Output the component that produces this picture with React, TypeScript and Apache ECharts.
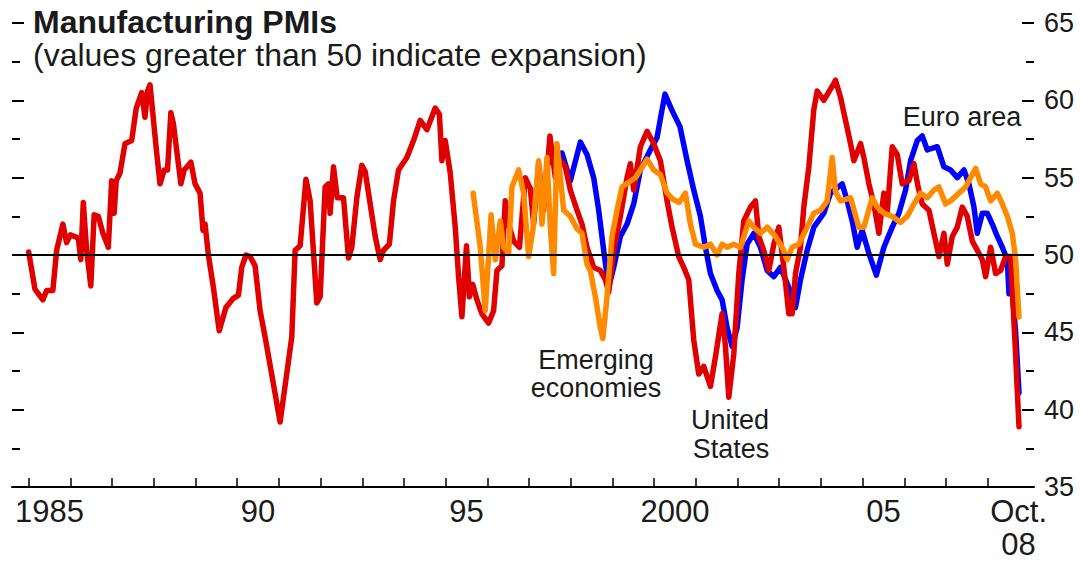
import React, { useEffect, useRef } from "react";
import * as echarts from "echarts";

// ---- Data (decimal year, PMI value) ----
const usData: [number, number][] = [
  [1985.0, 50.2], [1985.15, 47.8], [1985.34, 47.1], [1985.43, 47.7], [1985.58, 47.7], [1985.67, 50.3],
  [1985.82, 52.0], [1985.91, 50.8], [1986.0, 51.3], [1986.19, 51.1], [1986.25, 49.7], [1986.31, 53.4],
  [1986.39, 50.3], [1986.49, 48.0], [1986.57, 52.6], [1986.67, 52.5], [1986.78, 51.4], [1986.91, 50.5],
  [1986.99, 54.8], [1987.05, 52.7], [1987.1, 54.8], [1987.19, 55.3], [1987.31, 57.2], [1987.47, 57.4],
  [1987.58, 59.5], [1987.71, 60.5], [1987.79, 58.9], [1987.85, 60.6], [1987.91, 61.0], [1988.07, 56.6],
  [1988.15, 54.6], [1988.25, 55.5], [1988.33, 55.5], [1988.41, 59.2], [1988.47, 58.5], [1988.65, 54.6],
  [1988.73, 55.5], [1988.89, 56.0], [1988.99, 54.6], [1989.11, 54.0], [1989.18, 51.6], [1989.23, 52.0],
  [1989.31, 50.0], [1989.43, 47.9], [1989.57, 45.1], [1989.73, 46.6], [1989.91, 47.2], [1990.03, 47.4],
  [1990.11, 49.2], [1990.21, 50.0], [1990.31, 49.9], [1990.43, 49.3], [1990.55, 46.4], [1990.67, 44.7],
  [1991.03, 39.2], [1991.31, 44.7], [1991.39, 50.3], [1991.51, 50.6], [1991.65, 54.9], [1991.75, 53.5],
  [1991.91, 46.9], [1991.99, 47.3], [1992.11, 54.4], [1992.19, 54.6], [1992.23, 52.7], [1992.31, 55.7],
  [1992.4, 53.7], [1992.55, 53.7], [1992.67, 49.8], [1992.75, 50.5], [1992.87, 53.7], [1992.99, 55.8],
  [1993.07, 55.4], [1993.31, 51.2], [1993.43, 49.7], [1993.51, 50.3], [1993.65, 50.7], [1993.75, 53.5],
  [1993.87, 55.5], [1994.07, 56.3], [1994.23, 57.4], [1994.39, 58.7], [1994.55, 58.1], [1994.75, 59.5],
  [1994.85, 59.1], [1994.91, 56.1], [1994.99, 57.4], [1995.11, 55.3], [1995.23, 51.8], [1995.31, 48.6],
  [1995.39, 46.0], [1995.5, 50.6], [1995.57, 47.3], [1995.65, 48.1], [1995.75, 47.1], [1995.87, 46.2],
  [1996.03, 45.6], [1996.15, 46.4], [1996.23, 49.0], [1996.35, 49.3], [1996.43, 53.5], [1996.53, 51.8],
  [1996.63, 50.9], [1996.77, 50.5], [1996.91, 55.0], [1997.03, 54.3], [1997.11, 52.0], [1997.23, 55.9],
  [1997.35, 52.9], [1997.43, 55.3], [1997.5, 57.7], [1997.63, 55.0], [1997.75, 56.1], [1997.87, 55.7],
  [1997.99, 54.2], [1998.15, 52.9], [1998.27, 52.0], [1998.39, 50.5], [1998.55, 49.2], [1998.71, 49.0],
  [1998.83, 48.4], [1998.91, 47.6], [1999.03, 50.3], [1999.19, 52.5], [1999.35, 55.0], [1999.43, 55.9],
  [1999.51, 54.2], [1999.67, 57.0], [1999.83, 58.0], [1999.99, 57.2], [2000.15, 56.1], [2000.31, 53.5],
  [2000.43, 51.8], [2000.59, 49.9], [2000.71, 49.2], [2000.83, 48.4], [2000.95, 44.5], [2001.07, 42.3],
  [2001.19, 42.8], [2001.35, 41.5], [2001.47, 43.4], [2001.63, 46.2], [2001.71, 44.1], [2001.79, 40.8],
  [2001.91, 43.6], [2002.03, 48.8], [2002.15, 52.2], [2002.31, 53.1], [2002.43, 53.5], [2002.51, 51.2],
  [2002.63, 50.3], [2002.75, 49.0], [2002.87, 50.7], [2002.99, 51.8], [2003.11, 49.2], [2003.23, 46.2],
  [2003.31, 46.2], [2003.39, 48.8], [2003.51, 50.5], [2003.59, 53.1], [2003.71, 55.7], [2003.83, 59.4],
  [2003.91, 60.6], [2004.07, 60.0], [2004.31, 61.1], [2004.35, 61.3], [2004.47, 60.2], [2004.59, 58.7],
  [2004.71, 57.2], [2004.79, 56.1], [2004.95, 57.2], [2005.03, 56.3], [2005.15, 54.6], [2005.27, 53.3],
  [2005.39, 51.4], [2005.51, 54.0], [2005.59, 52.7], [2005.71, 57.0], [2005.83, 56.5], [2005.95, 54.6],
  [2006.11, 54.8], [2006.23, 55.9], [2006.33, 54.4], [2006.43, 53.3], [2006.59, 52.9], [2006.71, 51.4],
  [2006.83, 49.9], [2006.95, 51.4], [2007.03, 49.4], [2007.15, 51.2], [2007.27, 51.8], [2007.39, 53.1],
  [2007.51, 52.5], [2007.63, 50.9], [2007.75, 50.3], [2007.87, 49.7], [2007.95, 48.6], [2008.07, 50.5],
  [2008.19, 48.8], [2008.31, 49.0], [2008.43, 49.9], [2008.55, 49.9], [2008.67, 43.5], [2008.75, 38.9],
];

const euroData: [number, number][] = [
  [1997.5, 56.0], [1997.62, 56.5], [1997.79, 56.6], [1997.99, 54.8], [1998.23, 57.3], [1998.39, 56.5],
  [1998.55, 55.0], [1998.67, 52.9], [1998.79, 50.3], [1998.91, 47.9], [1999.03, 49.2], [1999.19, 51.2],
  [1999.35, 52.0], [1999.51, 53.3], [1999.67, 55.5], [1999.91, 56.8], [2000.07, 57.6], [2000.19, 59.4],
  [2000.26, 60.4], [2000.42, 59.4], [2000.62, 58.3], [2000.79, 56.1], [2000.95, 54.2], [2001.11, 52.5],
  [2001.23, 50.5], [2001.35, 48.8], [2001.51, 47.7], [2001.63, 47.1], [2001.75, 45.3], [2001.87, 44.1],
  [2001.99, 45.3], [2002.11, 48.4], [2002.23, 50.7], [2002.39, 51.4], [2002.55, 50.5], [2002.71, 49.0],
  [2002.87, 48.6], [2003.03, 49.2], [2003.23, 47.9], [2003.39, 46.6], [2003.51, 48.4], [2003.67, 50.3],
  [2003.83, 51.8], [2004.07, 52.7], [2004.23, 54.0], [2004.51, 54.6], [2004.63, 53.5], [2004.75, 52.2],
  [2004.87, 50.5], [2004.99, 51.6], [2005.15, 50.1], [2005.33, 48.7], [2005.51, 50.5], [2005.71, 51.8],
  [2005.87, 52.7], [2006.03, 54.2], [2006.15, 56.1], [2006.31, 57.4], [2006.43, 57.7], [2006.55, 56.8],
  [2006.79, 57.0], [2006.95, 55.7], [2007.11, 55.5], [2007.27, 55.0], [2007.43, 55.5], [2007.55, 54.6],
  [2007.67, 53.1], [2007.75, 51.4], [2007.87, 52.7], [2007.99, 52.7], [2008.11, 52.0], [2008.23, 51.2],
  [2008.35, 50.5], [2008.47, 49.7], [2008.51, 47.5], [2008.59, 47.6], [2008.67, 45.0], [2008.75, 41.1],
];

const emergingData: [number, number][] = [
  [1995.66, 54.0], [1995.83, 50.5], [1995.95, 46.4], [1996.09, 52.6], [1996.19, 49.7], [1996.31, 52.2],
  [1996.39, 50.5], [1996.51, 50.1], [1996.59, 54.4], [1996.75, 55.5], [1996.87, 54.0], [1996.99, 49.9],
  [1997.09, 51.6], [1997.23, 56.1], [1997.31, 52.0], [1997.43, 56.3], [1997.51, 51.8], [1997.59, 48.8],
  [1997.67, 57.2], [1997.83, 52.9], [1997.99, 52.5], [1998.15, 51.7], [1998.27, 51.4], [1998.39, 49.4],
  [1998.47, 49.0], [1998.59, 47.3], [1998.71, 45.3], [1998.77, 44.6], [1998.87, 47.3], [1998.99, 51.2],
  [1999.11, 52.9], [1999.23, 54.4], [1999.39, 54.7], [1999.55, 55.0], [1999.67, 55.5], [1999.83, 56.2],
  [1999.99, 55.5], [2000.15, 55.2], [2000.31, 54.0], [2000.45, 53.6], [2000.6, 53.4], [2000.75, 54.0],
  [2000.87, 52.0], [2000.99, 50.7], [2001.19, 50.5], [2001.35, 50.7], [2001.51, 50.0], [2001.63, 50.7],
  [2001.75, 50.5], [2001.91, 50.7], [2002.07, 50.5], [2002.27, 52.2], [2002.39, 51.8], [2002.55, 51.4],
  [2002.71, 51.8], [2002.91, 51.2], [2003.07, 50.5], [2003.19, 49.7], [2003.31, 50.5], [2003.47, 50.7],
  [2003.67, 51.8], [2003.83, 52.7], [2003.99, 52.9], [2004.15, 53.5], [2004.27, 56.3], [2004.35, 54.1],
  [2004.47, 53.5], [2004.71, 53.7], [2004.91, 51.8], [2005.03, 51.8], [2005.23, 53.7], [2005.35, 53.1],
  [2005.51, 52.7], [2005.71, 52.5], [2005.91, 52.1], [2006.07, 52.5], [2006.23, 53.3], [2006.39, 54.0],
  [2006.55, 53.7], [2006.71, 54.2], [2006.83, 54.4], [2006.99, 53.3], [2007.11, 53.5], [2007.31, 54.0],
  [2007.47, 54.4], [2007.59, 55.0], [2007.71, 55.6], [2007.83, 54.6], [2007.95, 54.4], [2008.07, 53.5],
  [2008.23, 54.0], [2008.35, 53.3], [2008.47, 52.5], [2008.59, 51.4], [2008.67, 49.7], [2008.75, 46.0],
];

const yearTicks: number[] = [
  1985, 1986, 1987, 1988, 1989, 1990, 1991, 1992, 1993, 1994, 1995, 1996,
  1997, 1998, 1999, 2000, 2001, 2002, 2003, 2004, 2005, 2006, 2007, 2008,
];
const xLabelValues: number[] = [1985.5, 1990.5, 1995.5, 2000.5, 2005.5, 2008.74];
const xLabelTexts: string[] = ["1985", "90", "95", "2000", "05", "Oct.\n08"];

const FONT = "'Liberation Sans', Arial, Helvetica, sans-serif";
const TEXT = "#1a1a1a";

export default function App() {
  const ref = useRef<HTMLDivElement>(null);

  useEffect(() => {
    document.body.style.margin = "0";
    if (!ref.current) return;
    const chart = echarts.init(ref.current, undefined, { renderer: "svg" });

    const yCommon = {
      type: "value" as const,
      min: 35,
      max: 65,
      interval: 5,
      axisLine: { show: false },
      axisTick: { show: true, inside: true, length: 12, lineStyle: { color: "#000", width: 2 } },
      minorTick: { show: true, splitNumber: 2, length: 8, lineStyle: { color: "#000", width: 2 } },
      splitLine: { show: false },
      minorSplitLine: { show: false },
    };

    const lineSeries = (name: string, data: [number, number][], color: string) => ({
      name,
      type: "line" as const,
      data,
      symbol: "none",
      showSymbol: false,
      lineStyle: { color, width: 5.5, join: "round", cap: "round" },
      itemStyle: { color },
      silent: true,
    });

    const annot = (text: string, x: number, y: number) => ({
      type: "text",
      x,
      y,
      style: {
        text,
        fontSize: 27,
        lineHeight: 25,
        fontFamily: FONT,
        fill: TEXT,
        align: "center",
        verticalAlign: "middle",
      },
    });

    chart.setOption({
      animation: false,
      backgroundColor: "#fff",
      grid: {
        left: 12,
        right: 47,
        top: 23,
        bottom: 75,
        containLabel: false,
        outerBoundsMode: "none",
      },
      xAxis: {
        type: "value",
        min: 1984.6,
        max: 2009.11,
        axisLine: { show: true, onZero: false, lineStyle: { color: "#000", width: 2 } },
        axisTick: {
          show: true,
          inside: true,
          length: 9,
          customValues: yearTicks,
          lineStyle: { color: "#000", width: 1.5 },
        },
        axisLabel: {
          show: true,
          customValues: xLabelValues,
          formatter: (v: number) => {
            const i = xLabelValues.findIndex((x) => Math.abs(x - v) < 0.01);
            return i >= 0 ? xLabelTexts[i] : "";
          },
          fontSize: 31,
          lineHeight: 33,
          color: TEXT,
          fontFamily: FONT,
          margin: 8,
        },
        splitLine: { show: false },
      },
      yAxis: [
        { ...yCommon, position: "left", axisLabel: { show: false } },
        {
          ...yCommon,
          position: "right",
          axisLabel: { show: true, fontSize: 27, color: TEXT, fontFamily: FONT, margin: 10 },
        },
      ],
      series: [
        lineSeries("Euro area", euroData, "#0000ff"),
        lineSeries("United States", usData, "#e00000"),
        {
          ...lineSeries("Emerging economies", emergingData, "#ff8a00"),
          markLine: {
            silent: true,
            symbol: "none",
            label: { show: false },
            lineStyle: { color: "#000", width: 1.8, type: "solid" },
            data: [{ yAxis: 50 }],
          },
        },
      ],
      graphic: [
        {
          type: "text",
          x: 33,
          y: 22,
          style: {
            text: "Manufacturing PMIs",
            fontSize: 32,
            lineHeight: 29,
            fontWeight: "bold",
            fontFamily: FONT,
            fill: TEXT,
            align: "left",
            verticalAlign: "middle",
          },
        },
        {
          type: "text",
          x: 33,
          y: 55,
          style: {
            text: "(values greater than 50 indicate expansion)",
            fontSize: 32,
            lineHeight: 29,
            fontFamily: FONT,
            fill: TEXT,
            align: "left",
            verticalAlign: "middle",
          },
        },
        annot("Euro area", 962, 117),
        annot("Emerging", 596, 359.5),
        annot("economies", 596, 387.5),
        annot("United", 730, 420),
        annot("States", 731, 449),
      ],
    });

    return () => chart.dispose();
  }, []);

  return (
    <div
      ref={ref}
      style={{ position: "absolute", left: 0, top: 0, width: 1081, height: 562, background: "#fff" }}
    />
  );
}
